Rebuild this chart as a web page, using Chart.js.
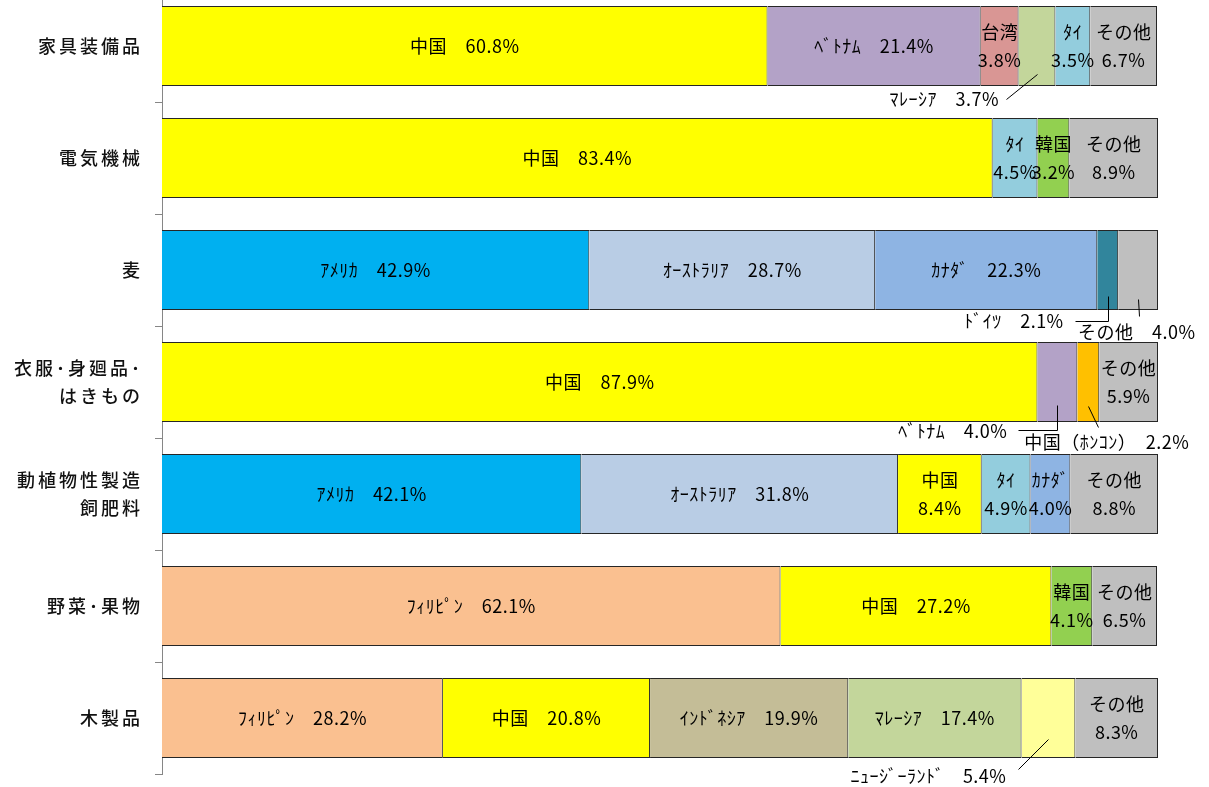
<!DOCTYPE html>
<html>
<head>
<meta charset="utf-8">
<script src="https://cdn.jsdelivr.net/npm/chart.js@4.4.0/dist/chart.umd.min.js"></script>
<style>
  body { margin: 0; background: #fff; overflow: hidden; }
  #wrap { position: absolute; left: 0; top: -10px; width: 1209px; height: 797px; }
</style>
</head>
<body>
<div id="wrap"><canvas id="myChart"></canvas></div>
<script>
// categories (top to bottom)
var categories = ['家具装備品', '電気機械', '麦', ['衣服･身廻品･', 'はきもの'], ['動植物性製造', '飼肥料'], '野菜･果物', '木製品'];

// share by country (%), one entry per category
var philippines = [null, null, null, null, null, 62.1, 28.2];
var usa         = [null, null, 42.9, null, 42.1, null, null];
var australia   = [null, null, 28.7, null, 31.8, null, null];
var china       = [60.8, 83.4, null, 87.9, 8.4, 27.2, 20.8];
var vietnam     = [21.4, null, null, 4.0, null, null, null];
var hongkong    = [null, null, null, 2.2, null, null, null];
var taiwan      = [3.8, null, null, null, null, null, null];
var indonesia   = [null, null, null, null, null, null, 19.9];
var malaysia    = [3.7, null, null, null, null, null, 17.4];
var newzealand  = [null, null, null, null, null, null, 5.4];
var thailand    = [3.5, 4.5, null, null, 4.9, null, null];
var korea       = [null, 3.2, null, null, null, 4.1, null];
var canada      = [null, null, 22.3, null, 4.0, null, null];
var germany     = [null, null, 2.1, null, null, null, null];
var others      = [6.7, 8.9, 4.0, 5.9, 8.8, 6.5, 8.3];

var series = [
    { label: 'ﾌｨﾘﾋﾟﾝ', data: philippines, color: '#FAC090' },
    { label: 'ｱﾒﾘｶ', data: usa, color: '#00B0F0' },
    { label: 'ｵｰｽﾄﾗﾘｱ', data: australia, color: '#B9CDE5' },
    { label: '中国', data: china, color: '#FFFF00' },
    { label: 'ﾍﾞﾄﾅﾑ', data: vietnam, color: '#B3A2C7' },
    { label: '中国（ﾎﾝｺﾝ）', data: hongkong, color: '#FFC000' },
    { label: '台湾', data: taiwan, color: '#D99694' },
    { label: 'ｲﾝﾄﾞﾈｼｱ', data: indonesia, color: '#C4BD97' },
    { label: 'ﾏﾚｰｼｱ', data: malaysia, color: '#C3D69B' },
    { label: 'ﾆｭｰｼﾞｰﾗﾝﾄﾞ', data: newzealand, color: '#FFFF99' },
    { label: 'ﾀｲ', data: thailand, color: '#93CDDD' },
    { label: '韓国', data: korea, color: '#92D050' },
    { label: 'ｶﾅﾀﾞ', data: canada, color: '#8EB4E3' },
    { label: 'ﾄﾞｲﾂ', data: germany, color: '#31859C' },
    { label: 'その他', data: others, color: '#BFBFBF' }
];

// labels placed below the bar with a leader line (offsets from segment centre / bar bottom)
var outside = {
    'ﾏﾚｰｼｱ|0': { tx: -38, ty: 13, align: 'right', line: [[0, -12], [-31, 13]] },
    'ﾄﾞｲﾂ|2': { tx: -44, ty: 11, align: 'right', line: [[0, -14], [0, 11], [-33, 11]] },
    'その他|2': { tx: -60, ty: 22, align: 'left', line: [[0, -11], [1, 6]] },
    'ﾍﾞﾄﾅﾑ|3': { tx: -50, ty: 9, align: 'right', line: [[0, -17], [0, 8], [-39, 8]] },
    '中国（ﾎﾝｺﾝ）|3': { tx: -64, ty: 20, align: 'left', line: [[0, -16], [10, 5]] },
    'ﾆｭｰｼﾞｰﾗﾝﾄﾞ|6': { tx: -42, ty: 18, align: 'right', line: [[0, -19], [-30, 11]] }
};

var FONT = '"Noto Sans CJK JP", "Noto Sans", sans-serif';

// wider tracking for the category names
var tracking = {
    id: 'tracking',
    beforeDraw: function (chart) { chart.ctx.letterSpacing = '3px'; }
};

var barLabels = {
    id: 'barLabels',
    afterDatasetsDraw: function (chart) {
        var ctx = chart.ctx;
        ctx.save();
        ctx.letterSpacing = '0.5px';
        ctx.font = '18px ' + FONT;
        ctx.fillStyle = '#000';
        ctx.strokeStyle = '#000';
        ctx.lineWidth = 1;
        ctx.textBaseline = 'middle';
        chart.data.datasets.forEach(function (ds, di) {
            var meta = chart.getDatasetMeta(di);
            ds.data.forEach(function (v, i) {
                if (v == null) return;
                var bar = meta.data[i];
                var cx = (bar.x + bar.base) / 2;
                var cy = bar.y;
                var bottom = bar.y + bar.height / 2;
                var w = Math.abs(bar.x - bar.base);
                var txt = v.toFixed(1) + '%';
                var ext = outside[ds.label + '|' + i];
                if (ext) {
                    ctx.textAlign = ext.align;
                    ctx.fillText(ds.label + '　' + txt, cx + ext.tx, bottom + ext.ty);
                    ctx.beginPath();
                    ext.line.forEach(function (p, k) {
                        var px = Math.round(cx + p[0]) + 0.5, py = Math.round(bottom + p[1]) + 0.5;
                        if (k === 0) ctx.moveTo(px, py); else ctx.lineTo(px, py);
                    });
                    ctx.stroke();
                } else if (w > 100) {
                    ctx.textAlign = 'center';
                    ctx.fillText(ds.label + '　' + txt, cx, cy);
                } else {
                    ctx.textAlign = 'center';
                    ctx.fillText(ds.label, cx, cy - 14);
                    ctx.fillText(txt, cx, cy + 14);
                }
            });
        });
        ctx.restore();
    }
};

var ctx = document.getElementById('myChart').getContext('2d');

var myChart = new Chart(ctx, {
    type: 'bar',
    data: {
        labels: categories,
        datasets: series.map(function (s) {
            return {
                label: s.label,
                data: s.data,
                backgroundColor: s.color,
                borderColor: '#262626',
                borderWidth: 1,
                barPercentage: 80 / 112,
                categoryPercentage: 1
            };
        })
    },
    options: {
        indexAxis: 'y',
        responsive: true,
        maintainAspectRatio: false,
        animation: false,
        layout: { padding: { left: 0, right: 51, top: 0, bottom: 13 } },
        plugins: {
            legend: { display: false },
            tooltip: { enabled: false }
        },
        scales: {
            x: {
                stacked: true,
                min: 0,
                max: 100,
                display: false
            },
            y: {
                stacked: true,
                afterFit: function (scale) {
                    scale.width = 162;
                    scale.paddingTop = 0;
                    scale.paddingBottom = 0;
                },
                grid: {
                    offset: true,
                    drawOnChartArea: false,
                    tickLength: 7,
                    color: '#868686'
                },
                border: { color: '#868686' },
                ticks: {
                    padding: 12,
                    color: '#111',
                    font: { family: FONT, size: 18, weight: '500', lineHeight: 1.55 }
                }
            }
        }
    },
    plugins: [tracking, barLabels]
});
</script>
</body>
</html>
